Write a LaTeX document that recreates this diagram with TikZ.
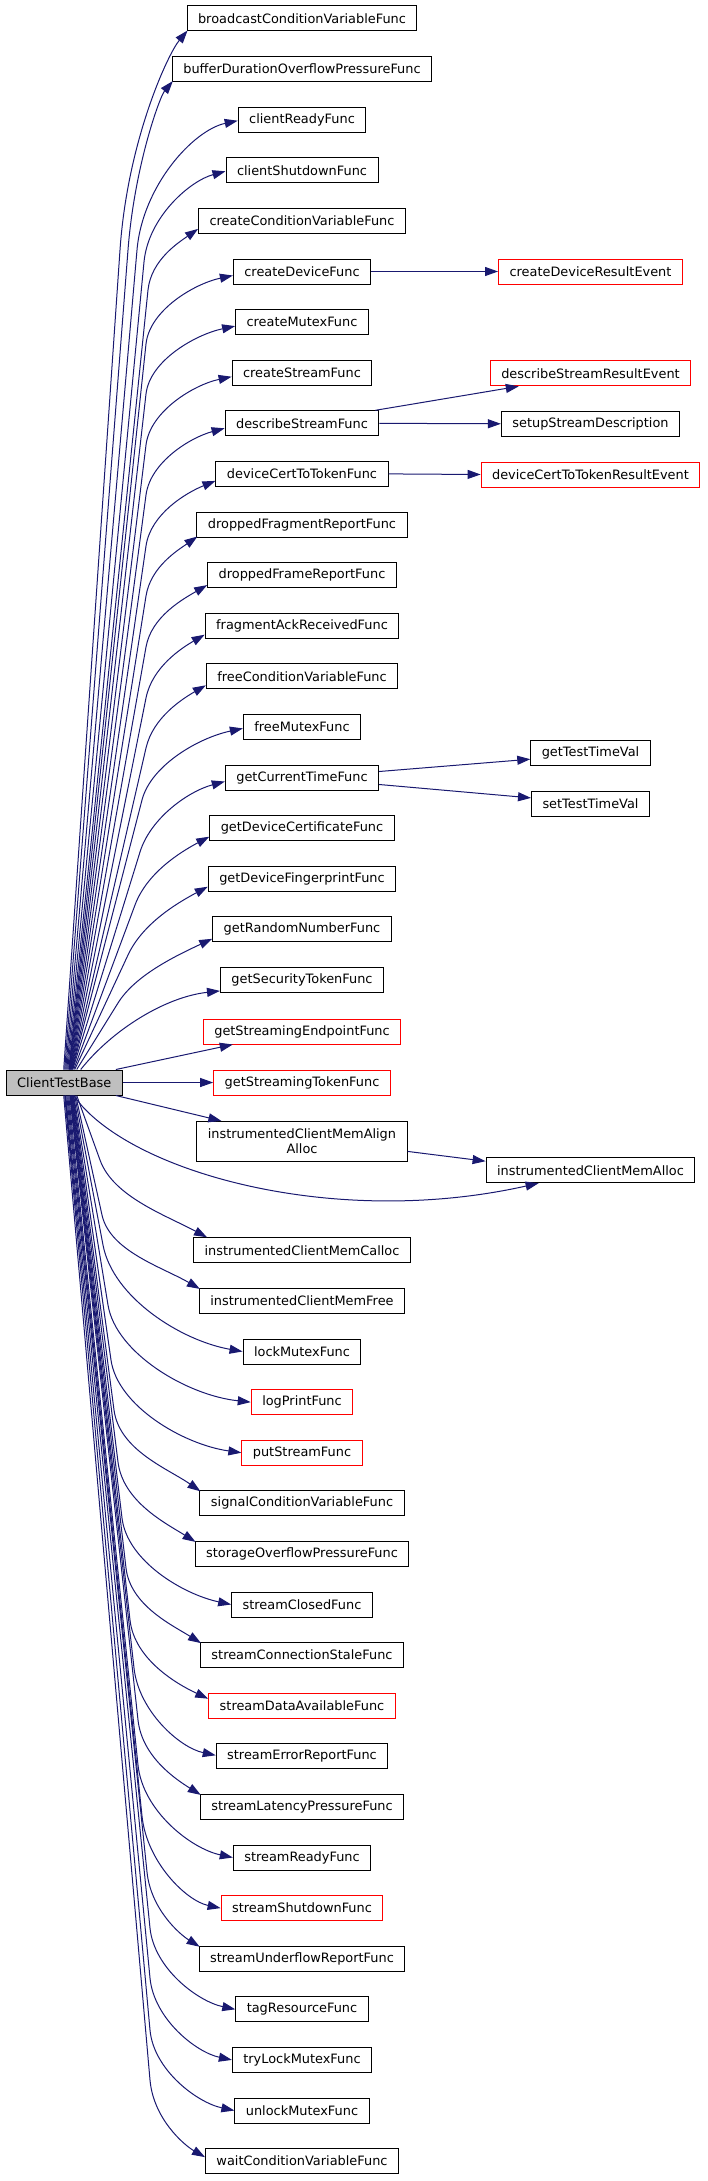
\documentclass[tikz,border=0pt]{standalone}
\usepackage{fontspec}
\setmainfont{DejaVu Sans}
\usetikzlibrary{arrows.meta,calc}
\definecolor{edgeblue}{HTML}{191970}
\definecolor{rootgray}{HTML}{BFBFBF}
\tikzset{
 fn/.style={draw=black, line width=1pt, fill=white, inner xsep=11pt, inner ysep=0pt, minimum height=25pt, font=\fontsize{12.9}{15}\selectfont, text=black},
 fnred/.style={fn, draw=red},
 callarrow/.style={draw=edgeblue, line width=1pt, -{Triangle[length=13pt,width=9pt]}}
}
\newcommand\fanup[5]{%
  \path #1 coordinate (tipc);
  \pgfpointanchor{tipc}{center}\pgfgetlastxy{\fntx}{\fnty}%
  \pgfmathsetmacro\fnex{\fntx}%
  \pgfmathsetmacro\fney{\fnty}%
  \pgfpointanchor{ctb}{north west}\pgfgetlastxy{\fntx}{\fnty}%
  \pgfmathsetmacro\fnsx{\fntx+#2-5}%
  \pgfmathsetmacro\fnsy{\fnty}%
  \pgfmathsetmacro\fnqx{#3}%
  \pgfmathsetmacro\fnqy{-#4}%
  \pgfmathsetmacro\fndx{(\fnqx-\fnsx)/100}%
  \pgfmathsetmacro\fndy{(\fnqy-(\fnsy))/100}%
  \pgfmathsetmacro\fnl{veclen(\fndx,\fndy)}%
  \pgfmathsetmacro\fnb{0.5*(\fney-(\fnqy))}%
  \pgfmathsetmacro\fnax{\fnqx+\fnb*\fndx/\fnl}%
  \pgfmathsetmacro\fnay{\fnqy+\fnb*\fndy/\fnl}%
  \pgfmathsetmacro\fnc{0.45*(\fnex-\fnqx)}%
  \pgfmathsetmacro\fnbx{\fnex-\fnc*cos(#5)}%
  \pgfmathsetmacro\fnby{\fney-\fnc*sin(#5)}%
  \draw[callarrow] ([xshift={#2pt-5pt}]ctb.north west) -- (\fnqx,\fnqy) .. controls (\fnax,\fnay) and (\fnbx,\fnby) .. (tipc);
}
\newcommand\fandown[5]{%
  \path #1 coordinate (tipc);
  \pgfpointanchor{tipc}{center}\pgfgetlastxy{\fntx}{\fnty}%
  \pgfmathsetmacro\fnex{\fntx}%
  \pgfmathsetmacro\fney{\fnty}%
  \pgfpointanchor{ctb}{south west}\pgfgetlastxy{\fntx}{\fnty}%
  \pgfmathsetmacro\fnsx{\fntx+#2-5}%
  \pgfmathsetmacro\fnsy{\fnty}%
  \pgfmathsetmacro\fnqx{#3}%
  \pgfmathsetmacro\fnqy{-#4}%
  \pgfmathsetmacro\fndx{(\fnqx-\fnsx)/100}%
  \pgfmathsetmacro\fndy{(\fnqy-(\fnsy))/100}%
  \pgfmathsetmacro\fnl{veclen(\fndx,\fndy)}%
  \pgfmathsetmacro\fnb{0.5*(\fnqy-(\fney))}%
  \pgfmathsetmacro\fnax{\fnqx+\fnb*\fndx/\fnl}%
  \pgfmathsetmacro\fnay{\fnqy+\fnb*\fndy/\fnl}%
  \pgfmathsetmacro\fnc{0.45*(\fnex-\fnqx)}%
  \pgfmathsetmacro\fnbx{\fnex-\fnc*cos(#5)}%
  \pgfmathsetmacro\fnby{\fney+\fnc*sin(#5)}%
  \draw[callarrow] ([xshift={#2pt-5pt}]ctb.south west) -- (\fnqx,\fnqy) .. controls (\fnax,\fnay) and (\fnbx,\fnby) .. (tipc);
}
\begin{document}
\begin{tikzpicture}[x=1pt,y=1pt]
\useasboundingbox (0,0) rectangle (707,-2181);
% root
\node[fn, fill=rootgray] (ctb) at (64.3,-1082.5) {ClientTestBase};
% main column
\node[fn] (n0) at (302,-18.5) {broadcastConditionVariableFunc};
\node[fn] (n1) at (302,-69.1) {bufferDurationOverflowPressureFunc};
\node[fn] (n2) at (302,-119.7) {clientReadyFunc};
\node[fn] (n3) at (302,-170.3) {clientShutdownFunc};
\node[fn] (n4) at (302,-220.9) {createConditionVariableFunc};
\node[fn] (n5) at (302,-271.5) {createDeviceFunc};
\node[fn] (n6) at (302,-322.1) {createMutexFunc};
\node[fn] (n7) at (302,-372.7) {createStreamFunc};
\node[fn] (n8) at (302,-423.3) {describeStreamFunc};
\node[fn] (n9) at (302,-473.9) {deviceCertToTokenFunc};
\node[fn] (n10) at (302,-524.5) {droppedFragmentReportFunc};
\node[fn] (n11) at (302,-575.1) {droppedFrameReportFunc};
\node[fn] (n12) at (302,-625.7) {fragmentAckReceivedFunc};
\node[fn] (n13) at (302,-676.3) {freeConditionVariableFunc};
\node[fn] (n14) at (302,-726.9) {freeMutexFunc};
\node[fn] (n15) at (302,-777.5) {getCurrentTimeFunc};
\node[fn] (n16) at (302,-828.1) {getDeviceCertificateFunc};
\node[fn] (n17) at (302,-878.7) {getDeviceFingerprintFunc};
\node[fn] (n18) at (302,-929.3) {getRandomNumberFunc};
\node[fn] (n19) at (302,-979.9) {getSecurityTokenFunc};
\node[fnred] (n20) at (302,-1031.5) {getStreamingEndpointFunc};
\node[fnred] (n21) at (302,-1082.5) {getStreamingTokenFunc};
\node[fn, minimum height=40pt, align=center] (n22) at (302,-1141.4) {instrumentedClientMemAlign\\Alloc};
\node[fn] (n23) at (302,-1250.3) {instrumentedClientMemCalloc};
\node[fn] (n24) at (302,-1300.9) {instrumentedClientMemFree};
\node[fn] (n25) at (302,-1351.5) {lockMutexFunc};
\node[fnred] (n26) at (302,-1402.1) {logPrintFunc};
\node[fnred] (n27) at (302,-1452.7) {putStreamFunc};
\node[fn] (n28) at (302,-1503.3) {signalConditionVariableFunc};
\node[fn] (n29) at (302,-1553.9) {storageOverflowPressureFunc};
\node[fn] (n30) at (302,-1604.5) {streamClosedFunc};
\node[fn] (n31) at (302,-1655.1) {streamConnectionStaleFunc};
\node[fnred] (n32) at (302,-1705.7) {streamDataAvailableFunc};
\node[fn] (n33) at (302,-1756.3) {streamErrorReportFunc};
\node[fn] (n34) at (302,-1806.9) {streamLatencyPressureFunc};
\node[fn] (n35) at (302,-1857.5) {streamReadyFunc};
\node[fnred] (n36) at (302,-1908.1) {streamShutdownFunc};
\node[fn] (n37) at (302,-1958.7) {streamUnderflowReportFunc};
\node[fn] (n38) at (302,-2009.3) {tagResourceFunc};
\node[fn] (n39) at (302,-2059.9) {tryLockMutexFunc};
\node[fn] (n40) at (302,-2110.5) {unlockMutexFunc};
\node[fn] (n41) at (302,-2161.1) {waitConditionVariableFunc};
% right column
\node[fnred] (cdre) at (590.5,-271.5) {createDeviceResultEvent};
\node[fnred] (dsre) at (590.5,-373.3) {describeStreamResultEvent};
\node[fn] (ssd) at (590.5,-423.8) {setupStreamDescription};
\node[fnred] (dctre) at (590.5,-474.5) {deviceCertToTokenResultEvent};
\node[fn] (gtt) at (590.5,-753.2) {getTestTimeVal};
\node[fn] (stt) at (590.5,-803.9) {setTestTimeVal};
\node[fn] (alloc) at (590.5,-1170.2) {instrumentedClientMemAlloc};
% second-level edges
\draw[callarrow] (n5.east) -- (cdre.west);
\draw[callarrow] ([xshift=-4pt]n8.north east) -- ([xshift=29pt]dsre.south west);
\draw[callarrow] (n8.east) -- (ssd.west);
\draw[callarrow] (n9.east) -- (dctre.west);
\draw[callarrow] ([yshift=6pt]n15.east) -- ([yshift=-6pt]gtt.west);
\draw[callarrow] ([yshift=-7pt]n15.east) -- ([yshift=6pt]stt.west);
\draw[callarrow] ([yshift=-10pt]n22.east) -- ([yshift=9pt]alloc.west);
% fan upwards
\fanup{([xshift=1pt,yshift=1pt]n0.south west)}{63}{120}{250}{50}
\fanup{([xshift=1pt,yshift=1pt]n1.south west)}{64}{128}{250}{50}
\fanup{([yshift=-1pt]n2.west)}{65}{137}{250}{12}
\fanup{([yshift=-1pt]n3.west)}{66}{144}{262}{15}
\fanup{([yshift=-8pt]n4.west)}{67}{148}{290}{35}
\fanup{([yshift=-4pt]n5.west)}{68}{146}{344}{12}
\fanup{([yshift=-4pt]n6.west)}{68.4}{146}{394}{12}
\fanup{([yshift=-4pt]n7.west)}{68.8}{146}{445}{12}
\fanup{([yshift=-5pt]n8.west)}{69.2}{146}{495}{15}
\fanup{([yshift=-7pt]n9.west)}{69.6}{146}{546}{22}
\fanup{([xshift=1pt,yshift=1pt]n10.south west)}{70}{146}{596}{35}
\fanup{([yshift=-10pt]n11.west)}{70.4}{146}{647}{30}
\fanup{([yshift=-9pt]n12.west)}{70.8}{146}{698}{30}
\fanup{([yshift=-9pt]n13.west)}{71.2}{146}{748}{30}
\fanup{([yshift=-1.5pt]n14.west)}{71.6}{142}{800}{12}
\fanup{([yshift=-4pt]n15.west)}{72}{140}{852}{15}
\fanup{([yshift=-8.6pt]n16.west)}{73}{135}{905}{28}
\fanup{([yshift=-8pt]n17.west)}{74}{128}{955}{28}
\fanup{([yshift=-9.5pt]n18.west)}{76}{118}{1003}{25}
\draw[callarrow] ([xshift=75pt]ctb.north west) .. controls (112,-1030) and (165,-997) .. ([yshift=-11pt]n19.west);
\draw[callarrow] ([xshift=-7pt]ctb.north east) -- ([xshift=30pt]n20.south west);
\draw[callarrow] (ctb.east) -- (n21.west);
\draw[callarrow] ([xshift=-7pt]ctb.south east) -- ([xshift=25pt]n22.north west);
\draw[callarrow] ([xshift=68pt]ctb.south west) .. controls (125,-1170) and (330,-1230) .. ([xshift=53pt]alloc.south west);
% fan downwards
\fandown{([xshift=14pt]n23.north west)}{76}{100}{1160}{28}
\fandown{([xshift=1pt,yshift=-1pt]n24.north west)}{75}{102}{1215}{30}
\fandown{(n25.west)}{74}{103}{1245}{10}
\fandown{(n26.west)}{73}{108}{1305}{6}
\fandown{(n27.west)}{72.5}{111}{1360}{8}
\fandown{([xshift=1pt,yshift=-1pt]n28.north west)}{72}{114}{1410}{35}
\fandown{([xshift=1pt,yshift=-1pt]n29.north west)}{71.5}{118}{1462}{32}
\fandown{(n30.west)}{71}{122}{1518}{12}
\fandown{([xshift=1pt,yshift=-1pt]n31.north west)}{70.5}{126}{1568}{32}
\fandown{([yshift=7pt]n32.west)}{70}{130}{1620}{25}
\fandown{([yshift=1pt]n33.west)}{69.5}{134}{1668}{12}
\fandown{([xshift=1pt,yshift=-1pt]n34.north west)}{69}{138}{1720}{32}
\fandown{(n35.west)}{68}{138}{1765}{12}
\fandown{(n36.west)}{67}{142}{1816}{12}
\fandown{([xshift=1pt,yshift=-1pt]n37.north west)}{66}{147}{1872}{32}
\fandown{(n38.west)}{65}{150}{1928}{12}
\fandown{(n39.west)}{64.5}{150}{1978}{12}
\fandown{(n40.west)}{64}{150}{2030}{12}
\fandown{([yshift=4pt]n41.west)}{63}{150}{2080}{30}
\end{tikzpicture}
\end{document}
